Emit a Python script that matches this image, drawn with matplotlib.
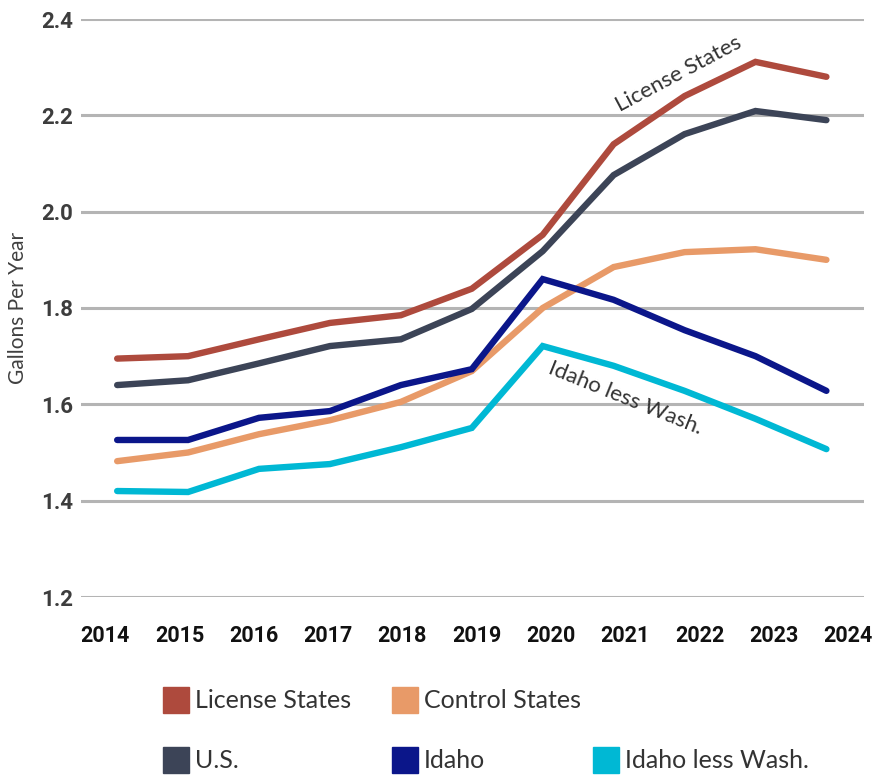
import numpy as np
import matplotlib
matplotlib.use("Agg")
import matplotlib.pyplot as plt
from matplotlib.patches import Rectangle

# data
YEARS = ["2014", "2015", "2016", "2017", "2018", "2019", "2020", "2021", "2022", "2023", "2024"]
LICENSE = [1.695, 1.700, 1.735, 1.769, 1.785, 1.840, 1.952, 2.140, 2.240, 2.311, 2.280]
CONTROL = [1.482, 1.500, 1.538, 1.567, 1.605, 1.669, 1.800, 1.885, 1.916, 1.922, 1.900]
US = [1.640, 1.650, 1.685, 1.721, 1.735, 1.798, 1.918, 2.076, 2.161, 2.209, 2.190]
IDAHO = [1.526, 1.526, 1.572, 1.586, 1.640, 1.673, 1.860, 1.817, 1.754, 1.700, 1.628]
IDAHO_LESS = [1.420, 1.418, 1.466, 1.476, 1.511, 1.551, 1.721, 1.680, 1.628, 1.570, 1.507]

SERIES = [
    ("License States", LICENSE, "#AE4A3D"),
    ("Control States", CONTROL, "#E89A68"),
    ("U.S.", US, "#3C4457"),
    ("Idaho", IDAHO, "#0B168A"),
    ("Idaho less Wash.", IDAHO_LESS, "#00B8D4"),
]

W, H = 876, 777
fig = plt.figure(figsize=(W / 100, H / 100), dpi=100)
# axes box in pixel terms: left 81, right 864, top 19, bottom 597
ax = fig.add_axes([81 / W, 1 - 597 / H, (864 - 81) / W, (597 - 19) / H])

x = np.arange(len(YEARS))
# plotted points sit slightly inside the year labels
for name, vals, color in SERIES:
    ax.plot(x, vals, color=color, lw=4.6, solid_capstyle="round",
            solid_joinstyle="miter", clip_on=False, zorder=3)

ax.set_xlim(-0.51, 10.53)
ax.set_ylim(1.2, 2.4)
ax.set_yticks(np.arange(1.2, 2.41, 0.2))
ax.set_yticklabels([f"{v:.1f}" for v in np.arange(1.2, 2.41, 0.2)],
                   fontsize=16, fontweight="bold", color="#3d3d3d", family="Roboto")
ax.yaxis.grid(True, color="#b4b4b4", lw=2.2, zorder=1)
ax.set_axisbelow(True)
ax.tick_params(axis="y", length=0, pad=6)

ax.set_xticks(np.linspace(-0.17, 10.31, len(YEARS)))
ax.set_xticklabels(YEARS, fontsize=15.5, fontweight="bold", color="#111111", family="Roboto")
ax.tick_params(axis="x", length=0, pad=20)

for s in ax.spines.values():
    s.set_visible(False)

ax.set_ylabel("Gallons Per Year", fontsize=15, color="#404040", family="Lato")
ax.yaxis.set_label_coords(-0.068, 0.5)

ax.text(7.92, 2.285, "License States", rotation=28, fontsize=16, color="#333333",
        family="Lato", ha="center", va="center")
ax.text(7.17, 1.613, "Idaho less Wash.", rotation=-22, fontsize=16, color="#333333",
        family="Lato", ha="center", va="center")

# legend, laid out in two rows like the original
legend_slots = [(163, 700), (392, 700), (163, 760), (392, 760), (593, 760)]
for (name, vals, color), (px, py) in zip(SERIES, legend_slots):
    fig.add_artist(Rectangle((px / W, 1 - (py + 13) / H), 26 / W, 26 / H,
                             transform=fig.transFigure, color=color))
    fig.text((px + 32) / W, 1 - py / H, name, fontsize=18, color="#333333",
             family="Lato", va="center", ha="left")

fig.savefig("out.png", dpi=100)
